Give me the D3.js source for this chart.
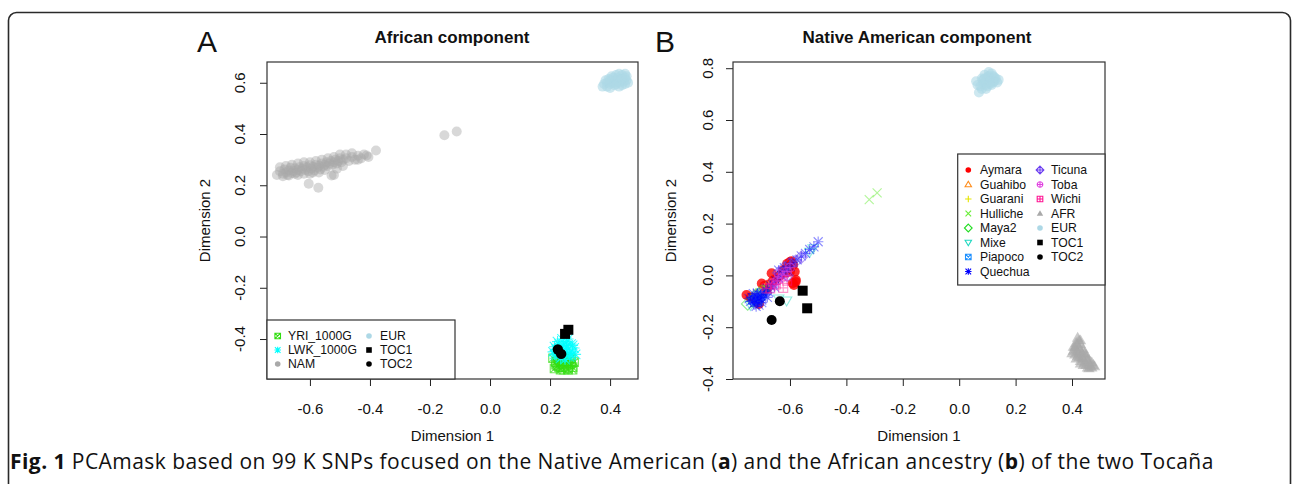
<!DOCTYPE html>
<html><head><meta charset="utf-8">
<script src="https://cdn.jsdelivr.net/npm/d3@7"></script>
<style>body{margin:0;background:#fff}svg{display:block}</style>
</head><body>
<svg id="c" width="1292" height="484"></svg>
<script>
// ---------- DATA ----------
const ticksXA = [-0.6,-0.4,-0.2,0.0,0.2,0.4];
const ticksYA = [-0.4,-0.2,0.0,0.2,0.4,0.6];
const ticksXB = [-0.6,-0.4,-0.2,0.0,0.2,0.4];
const ticksYB = [-0.4,-0.2,0.0,0.2,0.4,0.6,0.8];

// Panel A: African component
const namA = [[-0.71,0.24],[-0.70,0.255],[-0.69,0.245],[-0.685,0.262],[-0.68,0.25],[-0.675,0.24],[-0.67,0.258],[-0.665,0.268],[-0.66,0.248],[-0.655,0.256],[-0.65,0.266],[-0.645,0.25],[-0.64,0.26],[-0.635,0.27],[-0.63,0.255],[-0.625,0.265],[-0.62,0.275],[-0.615,0.26],[-0.61,0.27],[-0.605,0.255],[-0.60,0.278],[-0.595,0.265],[-0.59,0.272],[-0.585,0.258],[-0.58,0.28],[-0.575,0.268],[-0.57,0.276],[-0.565,0.262],[-0.56,0.285],[-0.555,0.272],[-0.55,0.28],[-0.545,0.29],[-0.54,0.275],[-0.535,0.285],[-0.53,0.295],[-0.525,0.28],[-0.52,0.29],[-0.515,0.30],[-0.51,0.285],[-0.505,0.295],[-0.50,0.305],[-0.495,0.29],[-0.49,0.30],[-0.48,0.305],[-0.47,0.295],[-0.46,0.31],[-0.45,0.30],[-0.44,0.315],[-0.43,0.305],[-0.411,0.316],[-0.405,0.31],[-0.38,0.336],[-0.528,0.238],[-0.52,0.24],[-0.604,0.206],[-0.572,0.19],[-0.152,0.395],[-0.111,0.41],[-0.65,0.245],[-0.59,0.25],[-0.70,0.27],[-0.68,0.275],[-0.66,0.28],[-0.64,0.285],[-0.62,0.29],[-0.60,0.29],[-0.58,0.295],[-0.56,0.30],[-0.54,0.305],[-0.52,0.31],[-0.50,0.32],[-0.48,0.32],[-0.46,0.325],[-0.44,0.30],[-0.42,0.32],[-0.69,0.235],[-0.67,0.238],[-0.64,0.24],[-0.62,0.245],[-0.60,0.245],[-0.57,0.25],[-0.55,0.26],[-0.51,0.265],[-0.49,0.275]];
const eurA = [[0.375,0.585],[0.38,0.595],[0.39,0.60],[0.40,0.61],[0.41,0.62],[0.42,0.63],[0.43,0.635],[0.44,0.63],[0.45,0.62],[0.455,0.61],[0.46,0.60],[0.45,0.595],[0.44,0.59],[0.43,0.60],[0.42,0.61],[0.41,0.60],[0.40,0.595],[0.39,0.585],[0.415,0.59],[0.425,0.62],[0.435,0.615],[0.445,0.605],[0.405,0.625],[0.43,0.585],[0.45,0.635],[0.395,0.615],[0.40,0.58],[0.42,0.595],[0.44,0.615],[0.455,0.625],[0.385,0.61]];
const yriA = [[0.21,-0.475],[0.22,-0.49],[0.225,-0.505],[0.215,-0.515],[0.23,-0.48],[0.235,-0.495],[0.24,-0.51],[0.245,-0.52],[0.25,-0.485],[0.255,-0.50],[0.26,-0.515],[0.265,-0.48],[0.27,-0.495],[0.275,-0.51],[0.28,-0.49],[0.225,-0.47],[0.245,-0.475],[0.235,-0.52],[0.26,-0.52],[0.27,-0.475],[0.22,-0.50],[0.24,-0.49],[0.255,-0.47],[0.275,-0.52],[0.23,-0.51],[0.265,-0.50]];
const lwkA = [[0.21,-0.45],[0.215,-0.43],[0.22,-0.465],[0.225,-0.41],[0.23,-0.44],[0.235,-0.475],[0.24,-0.40],[0.245,-0.425],[0.25,-0.455],[0.255,-0.41],[0.26,-0.44],[0.265,-0.47],[0.27,-0.42],[0.275,-0.45],[0.28,-0.435],[0.285,-0.46],[0.25,-0.48],[0.24,-0.45],[0.26,-0.40],[0.23,-0.42],[0.22,-0.44],[0.245,-0.44],[0.265,-0.455],[0.275,-0.425],[0.235,-0.455],[0.255,-0.43],[0.27,-0.465],[0.215,-0.46],[0.25,-0.42],[0.24,-0.47]];
const toc1A = [[0.261,-0.364],[0.25,-0.38]];
const toc2A = [[0.226,-0.441],[0.237,-0.458]];

// Panel B: Native American component
const aymaraB = [[-0.754,-0.076],[-0.718,-0.10],[-0.70,-0.031],[-0.665,0.008],[-0.60,0.052],[-0.589,0.04],[-0.583,0.014],[-0.579,-0.018],[-0.586,-0.037],[-0.624,0.02],[-0.648,-0.012],[-0.683,-0.05],[-0.74,-0.085],[-0.61,0.045],[-0.595,0.055],[-0.59,-0.03],[-0.635,0.0],[-0.69,-0.04],[-0.71,-0.11],[-0.605,0.03],[-0.615,0.01],[-0.66,-0.02],[-0.675,-0.035],[-0.725,-0.09],[-0.58,-0.025],[-0.60,0.015]];
const guahiboB = [[-0.70,-0.06],[-0.685,-0.045],[-0.72,-0.075]];
const guaraniB = [[-0.69,-0.05],[-0.71,-0.065],[-0.675,-0.04]];
const hullicheB = [[-0.319,0.293],[-0.291,0.319],[-0.70,-0.07],[-0.68,-0.055]];
const maya2B = [[-0.75,-0.11],[-0.73,-0.10],[-0.70,-0.06],[-0.72,-0.075]];
const mixeB = [[-0.612,-0.098],[-0.64,-0.09],[-0.74,-0.115],[-0.518,0.104],[-0.53,0.09],[-0.70,-0.09]];
const piapocoB = [[-0.72,-0.09],[-0.71,-0.08],[-0.73,-0.095],[-0.70,-0.07],[-0.715,-0.10]];
const quechuaB = [[-0.74,-0.10],[-0.735,-0.085],[-0.73,-0.11],[-0.725,-0.095],[-0.72,-0.08],[-0.715,-0.10],[-0.71,-0.09],[-0.705,-0.075],[-0.70,-0.085],[-0.695,-0.065],[-0.69,-0.075],[-0.685,-0.06],[-0.68,-0.05],[-0.675,-0.065],[-0.67,-0.04],[-0.66,-0.035],[-0.65,-0.02],[-0.64,-0.01],[-0.63,0.0],[-0.62,0.01],[-0.61,0.02],[-0.60,0.035],[-0.59,0.05],[-0.575,0.06],[-0.56,0.075],[-0.545,0.085],[-0.53,0.10],[-0.515,0.11],[-0.50,0.13],[-0.72,-0.12],[-0.70,-0.105],[-0.73,-0.07],[-0.68,-0.085],[-0.655,-0.045],[-0.64,0.02],[-0.62,0.03],[-0.745,-0.09],[-0.725,-0.105],[-0.71,-0.115],[-0.715,-0.07],[-0.70,-0.095]];
const ticunaB = [[-0.64,0.01],[-0.62,0.03],[-0.60,0.045],[-0.58,0.055],[-0.56,0.07],[-0.61,0.0]];
const tobaB = [[-0.66,-0.03],[-0.645,-0.02],[-0.63,-0.01],[-0.62,0.0],[-0.61,0.015],[-0.64,0.005],[-0.655,-0.04],[-0.60,0.03]];
const wichiB = [[-0.624,-0.048],[-0.67,-0.05],[-0.683,-0.05],[-0.65,-0.035],[-0.61,-0.02]];
const afrB = [[0.42,-0.24],[0.425,-0.25],[0.415,-0.26],[0.43,-0.265],[0.41,-0.275],[0.425,-0.28],[0.44,-0.285],[0.405,-0.29],[0.42,-0.295],[0.435,-0.30],[0.45,-0.305],[0.41,-0.305],[0.425,-0.315],[0.44,-0.32],[0.455,-0.325],[0.43,-0.33],[0.445,-0.335],[0.46,-0.34],[0.45,-0.345],[0.465,-0.35],[0.47,-0.355],[0.455,-0.355],[0.415,-0.32],[0.40,-0.30],[0.44,-0.345],[0.475,-0.345],[0.43,-0.25],[0.415,-0.285],[0.43,-0.29],[0.42,-0.31],[0.435,-0.315],[0.445,-0.30],[0.46,-0.325],[0.47,-0.335],[0.48,-0.35],[0.46,-0.358],[0.43,-0.34],[0.45,-0.315],[0.405,-0.275],[0.42,-0.265]];
const eurB = [[0.06,0.75],[0.07,0.706],[0.075,0.73],[0.08,0.76],[0.085,0.74],[0.09,0.775],[0.095,0.72],[0.10,0.75],[0.105,0.785],[0.11,0.76],[0.115,0.735],[0.12,0.77],[0.125,0.75],[0.13,0.76],[0.14,0.755],[0.09,0.745],[0.10,0.765],[0.11,0.74],[0.08,0.72],[0.12,0.745],[0.065,0.735],[0.085,0.755],[0.095,0.735],[0.105,0.77],[0.115,0.78],[0.125,0.765],[0.135,0.745],[0.10,0.73],[0.09,0.76],[0.11,0.75]];
const toc1B = [[-0.555,-0.059],[-0.539,-0.127]];
const toc2B = [[-0.636,-0.10],[-0.665,-0.172]];

const legendA = ["YRI_1000G","LWK_1000G","NAM","EUR","TOC1","TOC2"];
const legendB = ["Aymara","Guahibo","Guarani","Hulliche","Maya2","Mixe","Piapoco","Quechua","Ticuna","Toba","Wichi","AFR","EUR","TOC1","TOC2"];

// ---------- SYMBOLS ----------
function sym(pch, r){
  const t=r*1.15, h=r;
  switch(pch){
    case 2: return {d:`M0,${-t}L${t},${t*0.72}L${-t},${t*0.72}Z`,fill:false};
    case 3: return {d:`M${-t},0H${t}M0,${-t}V${t}`,fill:false};
    case 4: return {d:`M${-h},${-h}L${h},${h}M${-h},${h}L${h},${-h}`,fill:false};
    case 5: return {d:`M0,${-t*1.2}L${t*1.2},0L0,${t*1.2}L${-t*1.2},0Z`,fill:false};
    case 6: return {d:`M0,${t}L${t},${-t*0.72}L${-t},${-t*0.72}Z`,fill:false};
    case 7: return {d:`M${-h},${-h}H${h}V${h}H${-h}ZM${-h},${-h}L${h},${h}M${-h},${h}L${h},${-h}`,fill:false};
    case 8: return {d:`M${-t},0H${t}M0,${-t}V${t}M${-h},${-h}L${h},${h}M${-h},${h}L${h},${-h}`,fill:false};
    case 9: return {d:`M0,${-t*1.2}L${t*1.2},0L0,${t*1.2}L${-t*1.2},0ZM${-t*1.2},0H${t*1.2}M0,${-t*1.2}V${t*1.2}`,fill:false};
    case 10: return {d:`M${-h},0A${h},${h} 0 1,0 ${h},0A${h},${h} 0 1,0 ${-h},0ZM${-h},0H${h}M0,${-h}V${h}`,fill:false};
    case 12: return {d:`M${-h},${-h}H${h}V${h}H${-h}ZM${-h},0H${h}M0,${-h}V${h}`,fill:false};
    case 15: return {d:`M${-h},${-h}H${h}V${h}H${-h}Z`,fill:true};
    case 17: return {d:`M0,${-t}L${t},${t*0.72}L${-t},${t*0.72}Z`,fill:true};
    default: return {d:`M${-h},0A${h},${h} 0 1,0 ${h},0A${h},${h} 0 1,0 ${-h},0Z`,fill:true};
  }
}

const svg = d3.select("#c");
const FONT = "'Liberation Sans', Arial, Helvetica, sans-serif";

svg.append("rect").attr("x",8.5).attr("y",12.5).attr("width",1282).attr("height",520)
  .attr("rx",8).attr("fill","none").attr("stroke","#2a2a2a").attr("stroke-width",1.6);

function drawPoints(g, data, x, y, color, pch, r, op){
  const s = sym(pch, r);
  g.append("g").selectAll("path").data(data).join("path")
    .attr("transform", d=>`translate(${x(d[0])},${y(d[1])})`)
    .attr("d", s.d)
    .attr("fill", s.fill?color:"none")
    .attr("stroke", s.fill?"none":color)
    .attr("stroke-width", 1.1)
    .attr("opacity", op);
}

function panel(opts){
  const {x,y,ticksX,ticksY,title,letter,letterX,ylabX,yTickX,titleX} = opts;
  const g = svg.append("g");
  const [x0,x1]=x.range(), [y0,y1]=y.range();
  const ax = g.append("g").attr("transform",`translate(0,${y0})`)
    .call(d3.axisBottom(x).tickValues(ticksX).tickSize(7).tickPadding(17).tickFormat(d3.format(".1f")));
  ax.select(".domain").remove();
  ax.selectAll("line").attr("stroke","#222");
  ax.selectAll("text").attr("font-family",FONT).attr("font-size",15).attr("fill","#111").text(d=>d3.format(".1f")(d).replace("−","-"));
  const ay = g.append("g").attr("transform",`translate(${x0},0)`)
    .call(d3.axisLeft(y).tickValues(ticksY).tickSize(7).tickFormat(d3.format(".1f")));
  ay.select(".domain").remove();
  ay.selectAll("line").attr("stroke","#222");
  ay.selectAll("text").remove();
  g.append("g").selectAll("text").data(ticksY).join("text")
    .attr("transform",d=>`translate(${yTickX},${y(d)}) rotate(-90)`)
    .attr("text-anchor","middle").attr("font-family",FONT).attr("font-size",15).attr("fill","#111")
    .text(d=>d3.format(".1f")(d).replace("−","-"));
  g.append("rect").attr("x",x0).attr("y",y1).attr("width",x1-x0).attr("height",y0-y1)
    .attr("fill","none").attr("stroke","#333").attr("stroke-width",1.2);
  g.append("text").attr("x",(x0+x1)/2).attr("y",441).attr("text-anchor","middle")
    .attr("font-family",FONT).attr("font-size",15).attr("fill","#111").text("Dimension 1");
  g.append("text").attr("transform",`translate(${ylabX},${(y0+y1)/2}) rotate(-90)`).attr("text-anchor","middle")
    .attr("font-family",FONT).attr("font-size",15).attr("fill","#111").text("Dimension 2");
  g.append("text").attr("x",titleX).attr("y",43).attr("text-anchor","middle")
    .attr("font-family",FONT).attr("font-size",17).attr("font-weight","bold").attr("fill","#111").text(title);
  g.append("text").attr("x",letterX).attr("y",52)
    .attr("font-family",FONT).attr("font-size",30).attr("fill","#111").text(letter);
  return g;
}

// ----- Panel A -----
const xA = d3.scaleLinear([-0.743,0.493],[267,638]);
const yA = d3.scaleLinear([-0.556,0.681],[379,62]);
const gA = panel({x:xA,y:yA,ticksX:ticksXA,ticksY:ticksYA,title:"African component",letter:"A",letterX:197,ylabX:210,yTickX:245,titleX:452});
drawPoints(gA, namA, xA, yA, "#a9a9a9", 16, 5, 0.45);
drawPoints(gA, eurA, xA, yA, "#add8e6", 16, 5, 0.6);
drawPoints(gA, yriA, xA, yA, "#33dd11", 7, 4.3, 0.7);
drawPoints(gA, lwkA, xA, yA, "#00ffff", 8, 4.8, 0.75);
drawPoints(gA, toc1A, xA, yA, "#000", 15, 5, 1);
drawPoints(gA, toc2A, xA, yA, "#000", 16, 5.2, 1);
const legA = gA.append("g");
legA.append("rect").attr("x",267).attr("y",320).attr("width",188).attr("height",59)
  .attr("fill","#fff").attr("stroke","#333").attr("stroke-width",1.2);
const legAstyle = [["#33dd11",7],["#00ffff",8],["#a9a9a9",16],["#add8e6",16],["#000",15],["#000",16]];
legendA.forEach((name,i)=>{
  const col = Math.floor(i/3), row = i%3;
  const sx = col? 369 : 277.7, tx = col? 380 : 288, yy = 336 + row*14;
  const s = sym(legAstyle[i][1], 2.8);
  legA.append("path").attr("transform",`translate(${sx},${yy})`).attr("d",s.d)
    .attr("fill",s.fill?legAstyle[i][0]:"none").attr("stroke",s.fill?"none":legAstyle[i][0]).attr("stroke-width",1.1);
  legA.append("text").attr("x",tx).attr("y",yy+4.3).attr("font-family",FONT).attr("font-size",12.2).attr("fill","#111").text(name);
});

// ----- Panel B -----
const xB = d3.scaleLinear([-0.802,0.517],[733,1105]);
const yB = d3.scaleLinear([-0.4,0.824],[379,62]);
const gB = panel({x:xB,y:yB,ticksX:ticksXB,ticksY:ticksYB,title:"Native American component",letter:"B",letterX:655,ylabX:676,yTickX:713,titleX:917});
const stylesB = {
  Aymara:["#ff0000",16,0.8], Guahibo:["#ff8c1a",2,0.6], Guarani:["#e6e600",3,0.6], Hulliche:["#66ee33",4,0.5],
  Maya2:["#22dd22",5,0.5], Mixe:["#20d8c0",6,0.5], Piapoco:["#1e90ff",7,0.6], Quechua:["#0000ff",8,0.45],
  Ticuna:["#6a3cf0",9,0.5], Toba:["#e040e0",10,0.5], Wichi:["#ff1493",12,0.45], AFR:["#a9a9a9",17,0.6],
  EUR:["#add8e6",16,0.6], TOC1:["#000",15,1], TOC2:["#000",16,1]
};
const dataB = {Aymara:aymaraB,Guahibo:guahiboB,Guarani:guaraniB,Hulliche:hullicheB,Maya2:maya2B,Mixe:mixeB,Piapoco:piapocoB,Quechua:quechuaB,Ticuna:ticunaB,Toba:tobaB,Wichi:wichiB,AFR:afrB,EUR:eurB,TOC1:toc1B,TOC2:toc2B};
legendB.forEach(k=>{
  const st = stylesB[k];
  const r = (k==="TOC1"||k==="TOC2")?5:(st[1]===16?5:(st[1]===17?5:4.5));
  drawPoints(gB, dataB[k], xB, yB, st[0], st[1], r, st[2]);
});
const legB = gB.append("g");
legB.append("rect").attr("x",957.7).attr("y",154).attr("width",147.3).attr("height",131)
  .attr("fill","#fff").attr("stroke","#333").attr("stroke-width",1.2);
legendB.forEach((name,i)=>{
  const col = i<8?0:1, row = i<8?i:i-8;
  const sx = col? 1040 : 968.3, tx = col? 1051 : 980, yy = 170 + row*14.5;
  const st = stylesB[name];
  const s = sym(st[1], 2.8);
  legB.append("path").attr("transform",`translate(${sx},${yy})`).attr("d",s.d)
    .attr("fill",s.fill?st[0]:"none").attr("stroke",s.fill?"none":st[0]).attr("stroke-width",1.1);
  legB.append("text").attr("x",tx).attr("y",yy+4.3).attr("font-family",FONT).attr("font-size",12.2).attr("fill","#111").text(name);
});

// ----- Caption -----
const cap = svg.append("text").attr("x",10).attr("y",469).attr("font-family","'Open Sans', 'Noto Sans', sans-serif")
  .attr("font-size",21).attr("letter-spacing",0.45).attr("fill","#111");
cap.append("tspan").attr("font-weight","bold").text("Fig. 1");
cap.append("tspan").text(" PCAmask based on 99 K SNPs focused on the Native American (");
cap.append("tspan").attr("font-weight","bold").text("a");
cap.append("tspan").text(") and the African ancestry (");
cap.append("tspan").attr("font-weight","bold").text("b");
cap.append("tspan").text(") of the two Tocaña");
</script>
</body></html>
